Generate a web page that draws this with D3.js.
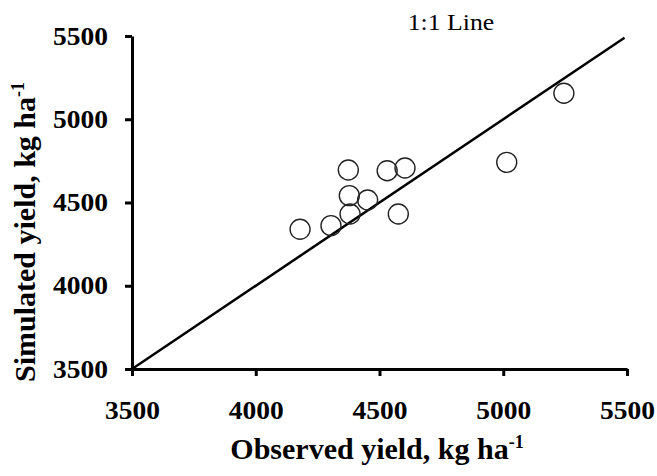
<!DOCTYPE html>
<html>
<head>
<meta charset="utf-8">
<script src="https://cdn.jsdelivr.net/npm/d3@7"></script>
<style>
  body { margin: 0; background: #fff; }
  svg { display: block; }
</style>
</head>
<body>
<svg id="chart" width="657" height="476"></svg>
<script>
// observed vs simulated yield, kg/ha
var observed  = [4374, 4531, 4603, 4378, 4452, 4381, 4304, 4179, 4576, 5245, 5014];
var simulated = [4695, 4691, 4707, 4541, 4515, 4431, 4361, 4339, 4431, 5156, 4741];
var xTicks = [3500, 4000, 4500, 5000, 5500];
var yTicks = [3500, 4000, 4500, 5000, 5500];
var oneToOne = [3500, 5490];  // ends of the 1:1 line

var svg = d3.select("#chart");
var serif = "'Liberation Serif', 'Times New Roman', serif";

var x = d3.scaleLinear().domain([3500, 5500]).range([132, 627]);
var y = d3.scaleLinear().domain([3500, 5500]).range([369, 36]);

var sx = 1.1; // labels in the picture are a bit wide

// x axis
var gx = svg.append("g")
    .attr("transform", "translate(0," + y(3500) + ")")
    .call(d3.axisBottom(x).tickValues(xTicks).tickSize(7).tickSizeOuter(0).tickFormat(d3.format("d")));
gx.selectAll("text")
    .attr("y", 41).attr("dy", "0.35em")
    .attr("transform", "scale(" + sx + ",1)");

// y axis
var gy = svg.append("g")
    .attr("transform", "translate(" + x(3500) + ",0)")
    .call(d3.axisLeft(y).tickValues(yTicks).tickSize(7).tickSizeOuter(0).tickFormat(d3.format("d")));
gy.selectAll("text")
    .attr("x", -24 / sx)
    .attr("transform", "scale(" + sx + ",1)");

svg.selectAll(".domain, .tick line")
    .attr("stroke", "#000")
    .attr("stroke-width", 3);
svg.selectAll(".tick text")
    .attr("fill", "#000")
    .style("font-family", serif)
    .style("font-weight", "bold")
    .style("font-size", "25px");

// 1:1 line
svg.append("line")
    .attr("x1", x(oneToOne[0])).attr("y1", y(oneToOne[0]))
    .attr("x2", x(oneToOne[1])).attr("y2", y(oneToOne[1]))
    .attr("stroke", "#000")
    .attr("stroke-width", 2.5);

svg.append("text")
    .attr("transform", "translate(451,30) scale(1.12,1)")
    .attr("text-anchor", "middle")
    .style("font-family", serif)
    .style("font-size", "23px")
    .text("1:1 Line");

// points
svg.selectAll("circle.pt")
    .data(observed)
    .enter()
    .append("circle")
    .attr("class", "pt")
    .attr("cx", function(d){ return x(d); })
    .attr("cy", function(d, i){ return y(simulated[i]); })
    .attr("r", 10)
    .attr("fill", "none")
    .attr("stroke", "#222")
    .attr("stroke-width", 1.4);

// axis titles
var xt = svg.append("text")
    .attr("x", 377).attr("y", 459)
    .attr("text-anchor", "middle")
    .style("font-family", serif)
    .style("font-weight", "bold")
    .style("font-size", "30px");
xt.append("tspan").text("Observed yield,  kg ha");
xt.append("tspan").attr("dy", -11).style("font-size", "18px").text("-1");

var yt = svg.append("text")
    .attr("transform", "translate(35,232) rotate(-90)")
    .attr("text-anchor", "middle")
    .style("font-family", serif)
    .style("font-weight", "bold")
    .style("font-size", "30px");
yt.append("tspan").text("Simulated yield,  kg ha");
yt.append("tspan").attr("dy", -11).style("font-size", "18px").text("-1");
</script>
</body>
</html>
